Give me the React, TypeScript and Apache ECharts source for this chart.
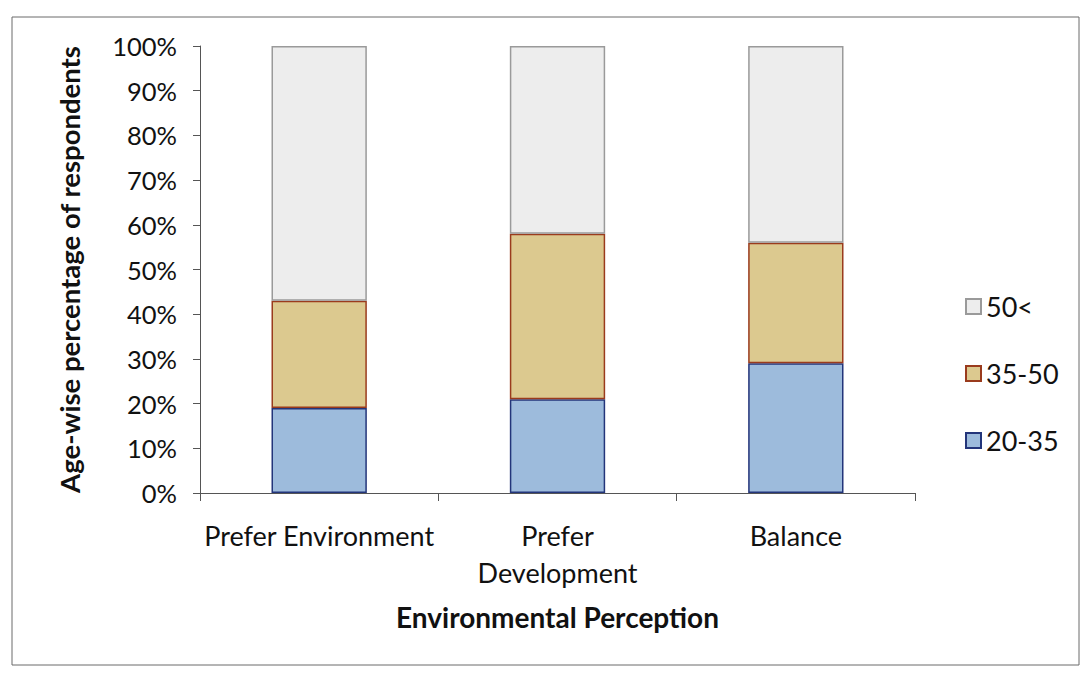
import React, { useEffect, useRef } from "react";
import * as echarts from "echarts";

// Environmental perception groups on the category axis
const categories = ["Prefer Environment", "Prefer Development", "Balance"];

// Share of respondents (%) in each age band, per perception group
const age20to35 = [19, 21, 29];
const age35to50 = [24, 37, 27];
const age50plus = [57, 42, 44];

// Y axis tick range
const yMin = 0;
const yMax = 100;
const yStep = 10;

const FONT = "Lato";

export default function App() {
  const ref = useRef<HTMLDivElement>(null);

  useEffect(() => {
    if (!ref.current) return;
    const chart = echarts.init(ref.current, undefined, { renderer: "svg" });

    const barBase = { type: "bar", stack: "total", barWidth: "40%" };

    chart.setOption({
      animation: false,
      backgroundColor: "#ffffff",
      textStyle: { fontFamily: FONT, color: "#111" },
      graphic: [
        {
          type: "rect",
          shape: { x: 12, y: 17, width: 1067, height: 648 },
          style: { fill: "none", stroke: "#6a6a6a", lineWidth: 1 },
          silent: true,
        },
      ],
      grid: { left: 200, right: 169, top: 46, bottom: 189 },
      legend: {
        orient: "vertical",
        left: 960,
        top: 288,
        itemWidth: 15,
        itemHeight: 15,
        itemGap: 40,
        icon: "rect",
        data: ["50<", "35-50", "20-35"],
        textStyle: { fontFamily: FONT, fontSize: 27, color: "#111" },
      },
      xAxis: {
        type: "category",
        data: categories,
        name: "Environmental Perception",
        nameLocation: "middle",
        nameGap: 110,
        nameTextStyle: { fontFamily: FONT, fontSize: 28, fontWeight: "bold", color: "#111" },
        axisLine: { lineStyle: { color: "#555", width: 1 } },
        axisTick: { show: true, length: 8, lineStyle: { color: "#555" } },
        axisLabel: {
          interval: 0,
          margin: 24,
          fontFamily: FONT,
          fontSize: 27,
          color: "#111",
          lineHeight: 37,
          formatter: (v: string) => (v === "Prefer Development" ? "Prefer\nDevelopment" : v),
        },
      },
      yAxis: {
        type: "value",
        min: yMin,
        max: yMax,
        interval: yStep,
        name: "Age-wise percentage of respondents",
        nameLocation: "middle",
        nameGap: 117,
        nameTextStyle: { fontFamily: FONT, fontSize: 27.5, fontWeight: "bold", color: "#111" },
        axisLine: { show: true, lineStyle: { color: "#555", width: 1 } },
        axisTick: { show: true, length: 7, lineStyle: { color: "#555" } },
        splitLine: { show: false },
        axisLabel: {
          margin: 23,
          fontFamily: FONT,
          fontSize: 25.5,
          color: "#111",
          formatter: "{value}%",
        },
      },
      series: [
        {
          ...barBase,
          name: "20-35",
          data: age20to35,
          itemStyle: { color: "#9dbbdc", borderColor: "#23357a", borderWidth: 1.5 },
        },
        {
          ...barBase,
          name: "35-50",
          data: age35to50,
          itemStyle: { color: "#dcc98f", borderColor: "#9a3b1d", borderWidth: 1.5 },
        },
        {
          ...barBase,
          name: "50<",
          data: age50plus,
          itemStyle: { color: "#ededed", borderColor: "#9a9a9a", borderWidth: 1.5 },
        },
      ],
    });

    return () => chart.dispose();
  }, []);

  return (
    <div
      ref={ref}
      style={{ position: "fixed", left: 0, top: 0, width: 1084, height: 682 }}
    />
  );
}
